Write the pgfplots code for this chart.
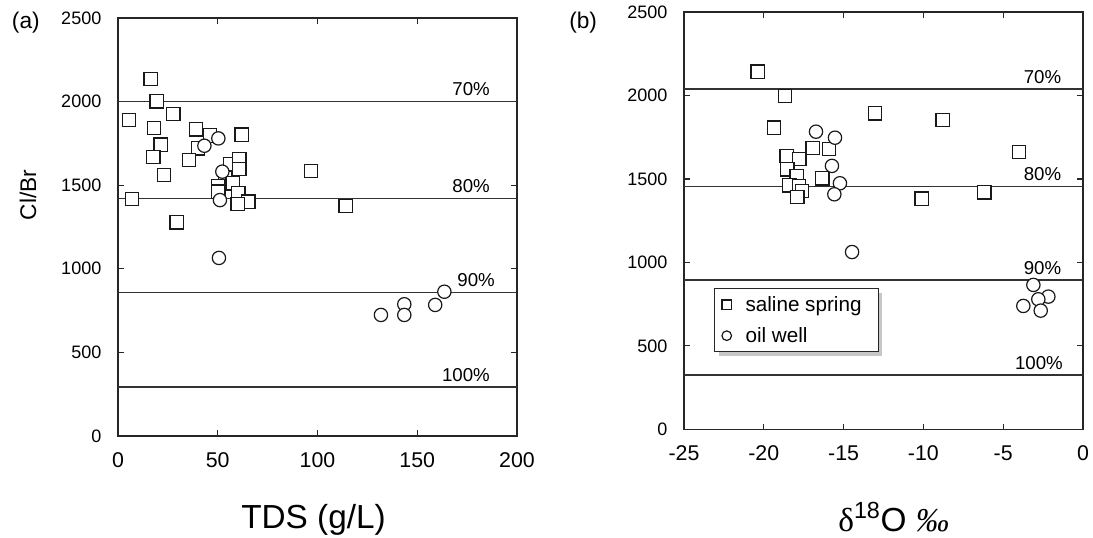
\documentclass[border=0pt]{standalone}
\usepackage{fontspec}
\setmainfont{Liberation Sans}
\newfontfamily\seriffont{Liberation Serif}
\usepackage{pgfplots}
\pgfplotsset{compat=1.18}
\usetikzlibrary{shadows}

\tikzset{pct/.style={anchor=south east, inner sep=0pt, yshift=4pt, font=\fontsize{14}{16}\selectfont}}
\pgfplotsset{
  myaxis/.style={
    scale only axis, anchor=south west, clip=false,
    axis line style={black!85, line width=1pt},
    tick align=inside, xtick pos=both, ytick pos=both,
    major tick length=4.3pt,
    tick style={black!85, line width=0.9pt},
    yticklabel style={font=\fontsize{13.5}{16}\selectfont, xshift=-9pt},
    xticklabel style={font=\fontsize{16}{19}\selectfont, yshift=-8.9pt},
    ymin=0, ymax=2500,
    ytick={0,500,1000,1500,2000,2500},
    yticklabels={0,500,1000,1500,2000,2500},
  },
  sq/.style={only marks, mark=square*, mark size=5pt,
    mark options={fill=white, draw=black!90, line width=0.9pt}},
  ci/.style={only marks, mark=*, mark size=5pt,
    mark options={fill=white, draw=black!90, line width=0.9pt}},
  hl/.style={black!80, line width=1pt, forget plot},
}

\begin{document}
\begin{tikzpicture}
\useasboundingbox (0,0) rectangle (819.75pt,402.75pt);

% ---------- (a) ----------
\begin{axis}[myaxis,
  at={(88.5pt,75.75pt)}, width=299.25pt, height=313.5pt,
  xmin=0, xmax=200,
  xtick={0,50,100,150,200}, xticklabels={0,50,100,150,200},
]
\addplot[hl] coordinates {(0,2002) (200,2002)};
\addplot[hl] coordinates {(0,1422) (200,1422)};
\addplot[hl] coordinates {(0,859) (200,859)};
\addplot[hl] coordinates {(0,293) (200,293)};
\addplot[sq] table {
x y
16.4 2135
19.4 2002
27.7 1926
5.4 1890
18.0 1842
46.1 1797
39.1 1834
62.0 1802
21.4 1742
17.7 1670
40.0 1721
35.7 1651
23.1 1561
56.1 1627
60.8 1655
60.8 1597
53.6 1541
50.3 1495
57.5 1511
50.3 1461
60.3 1452
65.3 1401
60.0 1388
7.0 1417
29.4 1278
96.7 1585
114.1 1377
};
\addplot[ci] table {
x y
43.3 1736
50.3 1780
52.3 1581
51.1 1411
50.6 1065
131.8 724
143.5 788
143.5 724
159.0 784
163.6 863
};
\node[pct] at (axis cs:186.5,2002) {70\%};
\node[pct] at (axis cs:186.5,1422) {80\%};
\node[pct] at (axis cs:189,859) {90\%};
\node[pct] at (axis cs:186.5,293) {100\%};
\node[rotate=90, font=\fontsize{17}{20}\selectfont] at (rel axis cs:-0.2256,0.577) {Cl/Br};
\node[anchor=base, font=\fontsize{25}{30}\selectfont] at (rel axis cs:0.49,-0.2201) {TDS (g/L)};
\node[anchor=base west, inner sep=0pt, font=\fontsize{17}{20}\selectfont] at (rel axis cs:-0.2664,0.9749) {(a)};
\end{axis}

% ---------- (b) ----------
\begin{axis}[myaxis,
  at={(513pt,80.775pt)}, width=299.25pt, height=312.975pt,
  xmin=-25, xmax=0,
  xtick={-25,-20,-15,-10,-5,0}, xticklabels={-25,-20,-15,-10,-5,0},
  legend style={
    at={(rel axis cs:0.0752,0.3379)}, anchor=north west,
    draw=black!85, line width=0.9pt, fill=white,
    drop shadow={shadow xshift=3pt, shadow yshift=-3pt, fill=black!22, opacity=1},
    font=\fontsize{15.5}{18}\selectfont,
    inner xsep=5.5pt, inner ysep=3.5pt, row sep=6.5pt,
    /tikz/every odd column/.append style={column sep=8.5pt},
  },
  legend cell align=left,
  legend image code/.code={\draw[#1, mark size=3.6pt] plot coordinates {(0pt,0pt)};},
]
\addplot[hl] coordinates {(-25,2039) (0,2039)};
\addplot[hl] coordinates {(-25,1454) (0,1454)};
\addplot[hl] coordinates {(-25,894) (0,894)};
\addplot[hl] coordinates {(-25,325) (0,325)};
\addplot[sq] table {
x y
-20.38 2143
-18.67 1997
-13.03 1893
-19.36 1807
-16.94 1684
-15.91 1678
-18.57 1638
-17.78 1618
-18.52 1558
-17.94 1518
-16.33 1504
-18.40 1462
-17.79 1458
-17.61 1428
-17.90 1392
-8.79 1853
-4.01 1660
-6.18 1420
-10.11 1382
};
\addlegendentry{saline spring\hspace*{5pt}}
\addplot[ci] table {
x y
-16.73 1783
-15.54 1747
-15.73 1578
-15.23 1474
-15.58 1408
-14.47 1062
-3.11 865
-2.17 795
-2.80 779
-3.74 739
-2.65 711
};
\addlegendentry{oil well}
\node[pct] at (axis cs:-1.35,2039) {70\%};
\node[pct] at (axis cs:-1.35,1454) {80\%};
\node[pct] at (axis cs:-1.35,894) {90\%};
\node[pct] at (axis cs:-1.25,325) {100\%};
\node[anchor=base, font=\fontsize{25}{30}\selectfont] at (rel axis cs:0.5256,-0.2437)
  {{\seriffont δ}\textsuperscript{18}O {\seriffont\itshape ‰}};
\node[anchor=base west, inner sep=0pt, font=\fontsize{17}{20}\selectfont] at (rel axis cs:-0.2882,0.9605) {(b)};
\end{axis}
\end{tikzpicture}
\end{document}
